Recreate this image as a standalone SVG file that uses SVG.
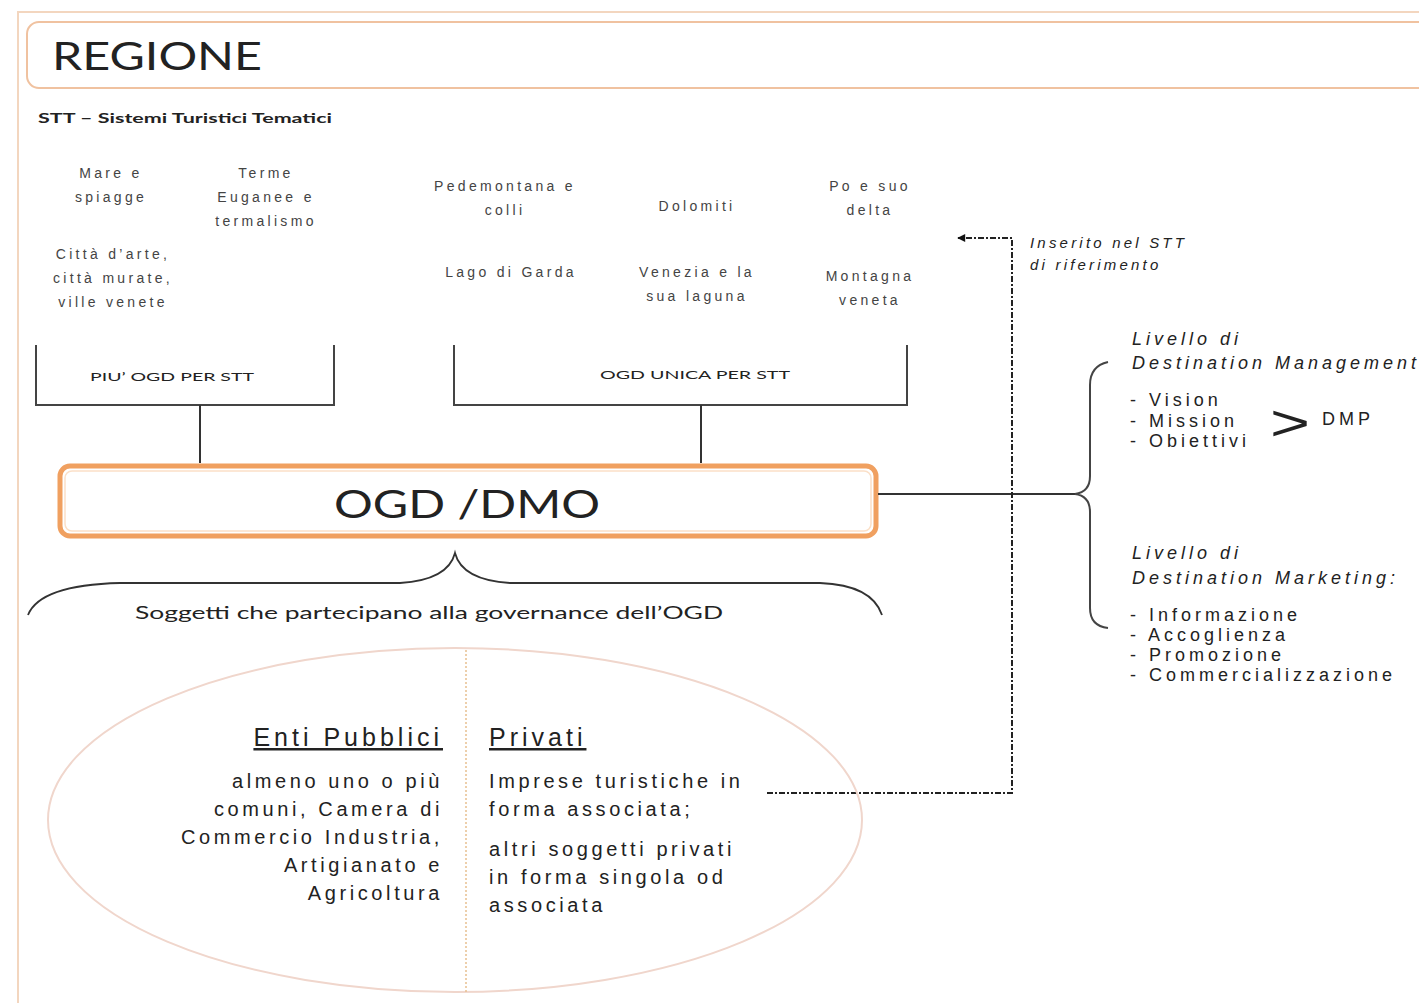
<svg xmlns="http://www.w3.org/2000/svg" width="1419" height="1003" viewBox="0 0 1419 1003">
<defs>
<style>
.lato{font-family:Lato,"Open Sans","Liberation Sans",sans-serif;fill:#222}
.ar{font-family:"Liberation Sans",Arial,sans-serif;fill:#222}
.topic{font-family:"Liberation Sans",Arial,sans-serif;fill:#444;font-size:14px;letter-spacing:3.3px;text-anchor:middle}
.br{fill:none;stroke:#444;stroke-width:2}
.conn{fill:none;stroke:#333;stroke-width:2}
.dash{fill:none;stroke:#222;stroke-width:2;stroke-dasharray:6 2 2 2}
.body{font-size:20px;letter-spacing:3.6px}
.rt{font-size:18px;letter-spacing:4px}
</style>
<marker id="arr" viewBox="0 0 10 10" refX="9" refY="5" markerWidth="9" markerHeight="8" orient="auto-start-reverse" markerUnits="userSpaceOnUse">
<path d="M0,0 L10,5 L0,10 z" fill="#111"/>
</marker>
</defs>
<rect width="1419" height="1003" fill="#fff"/>
<g id="frame">
<path d="M18,1003 V12 H1419" fill="none" stroke="#f3d6bf" stroke-width="2"/>
</g>
<g id="regione">
<rect x="27" y="22" width="1420" height="66" rx="12" fill="#fff" stroke="#f0c2a0" stroke-width="2"/>
<text class="lato" x="52" y="70" font-size="38" textLength="210" lengthAdjust="spacingAndGlyphs">REGIONE</text>
</g>
<g id="stt-title">
<text class="lato" x="38" y="123" font-size="13" font-weight="bold" fill="#333" textLength="294" lengthAdjust="spacingAndGlyphs">STT – Sistemi Turistici Tematici</text>
</g>
<g id="topics">
<text class="topic" x="111" y="178">Mare e</text>
<text class="topic" x="111" y="202">spiagge</text>
<text class="topic" x="266" y="178">Terme</text>
<text class="topic" x="266" y="202">Euganee e</text>
<text class="topic" x="266" y="226">termalismo</text>
<text class="topic" x="113" y="259">Città d’arte,</text>
<text class="topic" x="113" y="283">città murate,</text>
<text class="topic" x="113" y="307">ville venete</text>
<text class="topic" x="505" y="191">Pedemontana e</text>
<text class="topic" x="505" y="215">colli</text>
<text class="topic" x="697" y="211">Dolomiti</text>
<text class="topic" x="870" y="191">Po e suo</text>
<text class="topic" x="870" y="215">delta</text>
<text class="topic" x="511" y="277">Lago di Garda</text>
<text class="topic" x="697" y="277">Venezia e la</text>
<text class="topic" x="697" y="301">sua laguna</text>
<text class="topic" x="870" y="281">Montagna</text>
<text class="topic" x="870" y="305">veneta</text>
</g>
<g id="piu-ogd">
<path class="br" d="M36,345 V405 H334 V345"/>
<text class="lato" x="172" y="381" font-size="12" text-anchor="middle" fill="#444" textLength="164" lengthAdjust="spacingAndGlyphs">PIU’ OGD PER STT</text>
</g>
<g id="ogd-unica">
<path class="br" d="M454,345 V405 H907 V345"/>
<text class="lato" x="695" y="379" font-size="12" text-anchor="middle" fill="#444" textLength="190" lengthAdjust="spacingAndGlyphs">OGD UNICA PER STT</text>
</g>
<g id="ogd-dmo">
<rect x="60" y="466" width="816" height="70" rx="10" fill="#fff" stroke="#f0a060" stroke-width="5"/>
<rect x="65" y="471" width="806" height="60" rx="7" fill="none" stroke="#fbe0c8" stroke-width="1.5"/>
<text class="lato" x="467" y="518" font-size="38" text-anchor="middle" textLength="266" lengthAdjust="spacingAndGlyphs">OGD /DMO</text>
</g>
<g id="connectors">
<path class="conn" d="M200,405 V463"/>
<path class="conn" d="M701,405 V463"/>
<path class="conn" d="M878,494 H1075"/>
<path d="M1108,362 Q1090,366 1090,385 V476 Q1090,492 1075,494 Q1090,496 1090,512 V608 Q1090,626 1108,628" fill="none" stroke="#444" stroke-width="2"/>
<path d="M28,615 Q40,585 120,583 H400 Q448,580 455,553 Q462,580 510,583 H820 Q872,585 882,615" fill="none" stroke="#333" stroke-width="1.8"/>
<path class="dash" d="M767,793 H1012 V238 H958" marker-end="url(#arr)"/>
</g>
<g id="inserito">
<text class="ar" x="1030" y="248" font-size="15" font-style="italic" letter-spacing="3.2">Inserito nel STT</text>
<text class="ar" x="1030" y="270" font-size="15" font-style="italic" letter-spacing="3.2">di riferimento</text>
</g>
<g id="dest-management">
<text class="ar rt" x="1132" y="345" font-style="italic" letter-spacing="3.5">Livello di</text>
<text class="ar rt" x="1132" y="369" font-style="italic" letter-spacing="3.5">Destination Management</text>
<text class="ar rt" x="1130" y="406">- Vision</text>
<text class="ar rt" x="1130" y="427">- Mission</text>
<text class="ar rt" x="1130" y="447">- Obiettivi</text>
<text class="ar" x="1270" y="440" font-size="50" textLength="40" lengthAdjust="spacingAndGlyphs">&gt;</text>
<text class="ar" x="1322" y="425" font-size="18" letter-spacing="4">DMP</text>
</g>
<g id="dest-marketing">
<text class="ar rt" x="1132" y="559" font-style="italic" letter-spacing="3.5">Livello di</text>
<text class="ar rt" x="1132" y="584" font-style="italic" letter-spacing="3.5">Destination Marketing:</text>
<text class="ar rt" x="1130" y="621">- Informazione</text>
<text class="ar rt" x="1130" y="641">- Accoglienza</text>
<text class="ar rt" x="1130" y="661">- Promozione</text>
<text class="ar rt" x="1130" y="681">- Commercializzazione</text>
</g>
<g id="soggetti">
<text class="lato" x="429" y="619" font-size="18" text-anchor="middle" fill="#333" textLength="588" lengthAdjust="spacingAndGlyphs">Soggetti che partecipano alla governance dell’OGD</text>
</g>
<g id="governance">
<ellipse cx="455" cy="820" rx="407" ry="172" fill="none" stroke="#f0d6cc" stroke-width="2"/>
<path d="M466,650 V993" stroke="#e8c090" stroke-width="1.5" stroke-dasharray="2 2" fill="none"/>
</g>
<g id="enti-pubblici">
<text class="ar" x="443" y="746" font-size="25" letter-spacing="4" text-anchor="end" text-decoration="underline">Enti Pubblici</text>
<text class="ar body" x="443" y="788" text-anchor="end">almeno uno o più</text>
<text class="ar body" x="443" y="816" text-anchor="end">comuni, Camera di</text>
<text class="ar body" x="443" y="844" text-anchor="end">Commercio Industria,</text>
<text class="ar body" x="443" y="872" text-anchor="end">Artigianato e</text>
<text class="ar body" x="443" y="900" text-anchor="end">Agricoltura</text>
</g>
<g id="privati">
<text class="ar" x="489" y="746" font-size="25" letter-spacing="4" text-decoration="underline">Privati</text>
<text class="ar body" x="489" y="788">Imprese turistiche in</text>
<text class="ar body" x="489" y="816">forma associata;</text>
<text class="ar body" x="489" y="856">altri soggetti privati</text>
<text class="ar body" x="489" y="884">in forma singola od</text>
<text class="ar body" x="489" y="912">associata</text>
</g>
</svg>
